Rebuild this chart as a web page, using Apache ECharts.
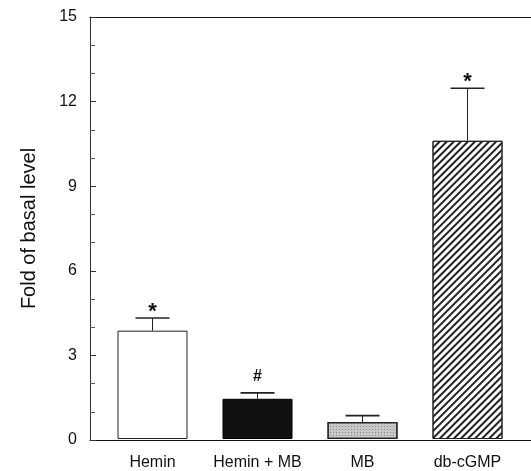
<!DOCTYPE html>
<html><head><meta charset="utf-8">
<script src="https://cdn.jsdelivr.net/npm/echarts@6/dist/echarts.min.js"></script>
<style>html,body{margin:0;padding:0;background:#fff}#c{width:531px;height:471px}</style>
</head><body><div id="c"></div>
<script>
var categories = ['Hemin', 'Hemin + MB', 'MB', 'db-cGMP'];
var means = [3.85, 1.43, 0.6, 10.6];
var errors = [0.45, 0.21, 0.23, 1.87];
var marks = ['*', '#', '', '*'];
var yTicks = [0, 3, 6, 9, 12, 15];

var chart = echarts.init(document.getElementById('c'), null, {renderer: 'canvas'});
var font = 'Liberation Sans, Arial, Helvetica, sans-serif';

var barStyles = [
  {color: '#ffffff', borderColor: '#222', borderWidth: 1},
  {color: '#111111', borderColor: '#000', borderWidth: 1},
  {color: '#c8c8c8', borderColor: '#222', borderWidth: 1.2,
   decal: {symbol: 'rect', symbolSize: 1, color: 'rgba(80,80,80,0.55)', dashArrayX: [1, 1.5], dashArrayY: [1, 1.5], rotation: 0}},
  {color: '#ffffff', borderColor: '#222', borderWidth: 1,
   decal: {symbol: 'rect', symbolSize: 1, color: '#222', dashArrayX: [1, 0], dashArrayY: [1.1, 2.6], rotation: -Math.PI / 4}}
];

var option = {
  animation: false,
  backgroundColor: '#fff',
  grid: [
    {left: 90, right: 0, top: 17, bottom: 31},
    {left: 100, width: 420, top: 17, bottom: 31}
  ],
  xAxis: [
    {gridIndex: 0, type: 'value', position: 'bottom', min: 0, max: 1,
     axisLine: {show: true, lineStyle: {color: '#111', width: 1.2}},
     axisTick: {show: false}, axisLabel: {show: false}, splitLine: {show: false}},
    {gridIndex: 0, type: 'value', position: 'top', min: 0, max: 1,
     axisLine: {show: true, lineStyle: {color: '#111', width: 1.2}},
     axisTick: {show: false}, axisLabel: {show: false}, splitLine: {show: false}},
    {gridIndex: 1, type: 'category', data: categories,
     axisLine: {show: false}, axisTick: {show: false},
     axisLabel: {interval: 0, hideOverlap: false, margin: 16, fontSize: 16, color: '#111', fontFamily: font}}
  ],
  yAxis: [
    {gridIndex: 0, type: 'value', min: 0, max: 15, interval: 3,
     name: 'Fold of basal level', nameLocation: 'middle', nameGap: 51,
     nameTextStyle: {fontSize: 20, color: '#111', fontFamily: font},
     axisLine: {show: true, lineStyle: {color: '#333', width: 1}},
     axisTick: {show: true, inside: true, length: 6, lineStyle: {color: '#333'}},
     minorTick: {show: true, splitNumber: 3, length: 5, lineStyle: {color: '#555'}},
     axisLabel: {margin: 13, fontSize: 16, color: '#111', fontFamily: font,
       formatter: function (v) { return yTicks.indexOf(v) >= 0 ? String(v) : ''; }},
     splitLine: {show: false}},
    {gridIndex: 1, type: 'value', min: 0, max: 15, show: false}
  ],
  series: [
    {type: 'bar', xAxisIndex: 2, yAxisIndex: 1, barWidth: 70,
     data: means.map(function (v, i) { return {value: v, itemStyle: barStyles[i]}; })},
    {type: 'custom', xAxisIndex: 2, yAxisIndex: 1,
     data: means.map(function (v, i) { return [i, v, errors[i]]; }),
     renderItem: function (params, api) {
       var i = api.value(0), m = api.value(1), e = api.value(2);
       var base = api.coord([i, m]);
       var top = api.coord([i, m + e]);
       var half = 17;
       var children = [
         {type: 'line', shape: {x1: base[0], y1: base[1], x2: top[0], y2: top[1]}, style: {stroke: '#222', lineWidth: 1}},
         {type: 'line', shape: {x1: top[0] - half, y1: top[1], x2: top[0] + half, y2: top[1]}, style: {stroke: '#222', lineWidth: 1.6}}
       ];
       var mk = marks[params.dataIndex];
       if (mk) {
         var star = mk === '*';
         children.push({type: 'text', style: {text: mk, x: top[0], y: top[1] - (star ? 6 : 16),
           align: 'center', verticalAlign: 'middle', fontSize: star ? 22 : 16,
           fontWeight: 'bold', fill: '#111', fontFamily: font}});
       }
       return {type: 'group', children: children};
     }}
  ]
};
chart.setOption(option);
</script></body></html>
